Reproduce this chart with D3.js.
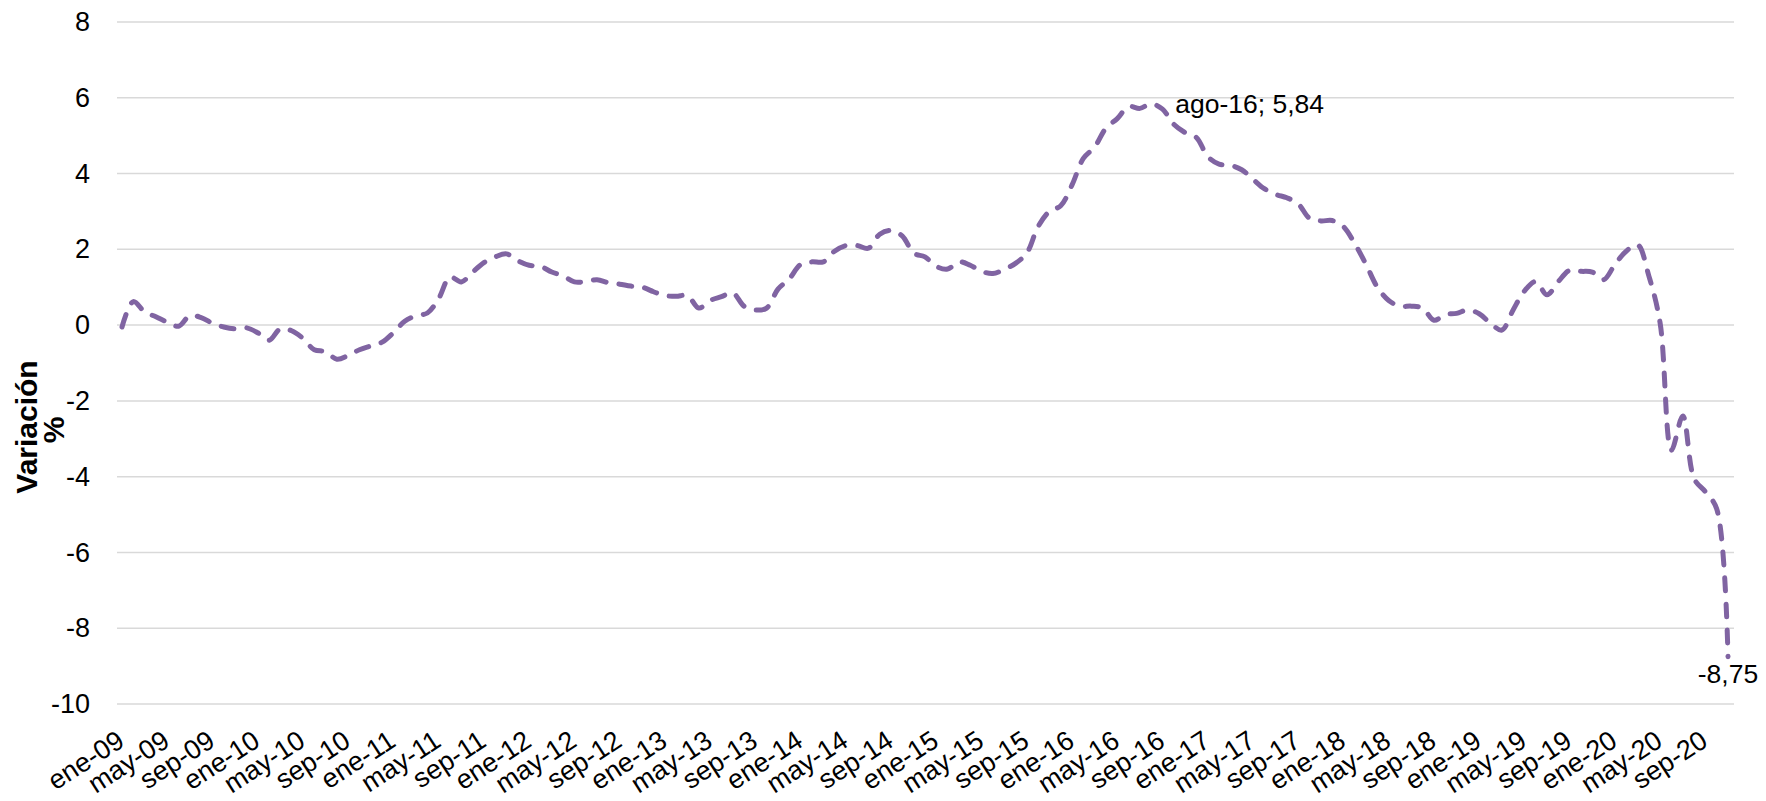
<!DOCTYPE html>
<html>
<head>
<meta charset="utf-8">
<script src="https://cdn.jsdelivr.net/npm/d3@7/dist/d3.min.js"></script>
<style>
  html, body { margin: 0; padding: 0; background: #fff; }
  svg { display: block; }
  text { font-family: "Liberation Sans", Arial, sans-serif; fill: #000; }
</style>
</head>
<body>
<svg id="chart" width="1766" height="801"></svg>
<script>
// ---- data ----
const monthNames = ["ene","feb","mar","abr","may","jun","jul","ago","sep","oct","nov","dic"];
const startYear = 2009;
const nMonths = 143; // ene-09 .. nov-20
const categories = Array.from({length: nMonths}, (_, i) =>
  monthNames[i % 12] + "-" + String((startYear + Math.floor(i / 12)) % 100).padStart(2, "0"));

const values = [
  -0.05, 0.62, 0.35, 0.22, 0.08, -0.03, 0.25, 0.20, 0.05, -0.05,
  -0.10, -0.07, -0.20, -0.40, -0.10, -0.15, -0.35, -0.65, -0.70, -0.90,
  -0.80, -0.65, -0.55, -0.45, -0.20, 0.10, 0.25, 0.32, 0.70, 1.27,
  1.14, 1.40, 1.65, 1.80, 1.88, 1.70, 1.58, 1.55, 1.40, 1.30,
  1.14, 1.15, 1.20, 1.12, 1.08, 1.03, 1.00, 0.88, 0.78, 0.76,
  0.78, 0.45, 0.65, 0.75, 0.85, 0.50, 0.40, 0.45, 0.95, 1.22,
  1.60, 1.67, 1.67, 1.95, 2.10, 2.10, 2.03, 2.40, 2.50, 2.35,
  1.90, 1.80, 1.55, 1.48, 1.67, 1.58, 1.42, 1.36, 1.47, 1.63,
  1.90, 2.60, 3.00, 3.15, 3.70, 4.40, 4.70, 5.20, 5.45, 5.77,
  5.72, 5.84, 5.70, 5.30, 5.08, 4.95, 4.45, 4.25, 4.22, 4.10,
  3.85, 3.60, 3.45, 3.36, 3.20, 2.82, 2.75, 2.76, 2.60, 2.15,
  1.60, 1.00, 0.65, 0.50, 0.50, 0.45, 0.13, 0.28, 0.31, 0.40,
  0.30, 0.05, -0.13, 0.40, 0.90, 1.15, 0.80, 1.15, 1.45, 1.42,
  1.40, 1.20, 1.60, 1.95, 2.12, 1.30, 0.05, -3.30, -2.40, -4.05,
  -4.40, -4.85, -8.75
];

const yTicks = [-10, -8, -6, -4, -2, 0, 2, 4, 6, 8];
const yTickLabels = ["-10", "-8", "-6", "-4", "-2", "0", "2", "4", "6", "8"];
const xTickLabels = categories.filter((_, i) => i % 4 === 0);
const annotated = ["ago-16", "nov-20"];

const data = categories.map((c, i) => ({cat: c, value: values[i]}));

// ---- layout ----
const svg = d3.select("#chart");
const plotLeft = 117, plotRight = 1734;
const x = d3.scalePoint().domain(categories).range([122, 1728]);
const y = d3.scaleLinear().domain([-10, 8]).range([704, 22]);

// gridlines
svg.append("g").selectAll("line").data(yTicks).join("line")
  .attr("x1", plotLeft).attr("x2", plotRight)
  .attr("y1", d => y(d)).attr("y2", d => y(d))
  .attr("stroke", "#d9d9d9").attr("stroke-width", 1.5);

// y axis labels
const yAxis = d3.axisLeft(y).tickValues(yTicks).tickSize(0).tickPadding(0)
  .tickFormat((d, i) => yTickLabels[i]);
const gy = svg.append("g").attr("transform", "translate(90,0)").call(yAxis);
gy.select(".domain").remove();
gy.selectAll("text").attr("font-size", "27px").attr("fill", "#000")
  .attr("font-family", "Liberation Sans, Arial, sans-serif");

// x axis labels
const xAxis = d3.axisBottom(x).tickValues(xTickLabels).tickSize(0).tickPadding(0);
const gx = svg.append("g").call(xAxis);
gx.select(".domain").remove();
gx.selectAll(".tick").attr("transform", d => `translate(${x(d) + 4},745)`);
gx.selectAll("text")
  .attr("font-size", "27px").attr("fill", "#000")
  .attr("font-family", "Liberation Sans, Arial, sans-serif")
  .attr("text-anchor", "end").attr("dy", null).attr("y", 0).attr("x", 0)
  .attr("transform", "rotate(-33)");

// line
const line = d3.line().x(d => x(d.cat)).y(d => y(d.value)).curve(d3.curveCatmullRom.alpha(0.5));
svg.append("path").datum(data)
  .attr("d", line)
  .attr("fill", "none")
  .attr("stroke", "#8064a2")
  .attr("stroke-width", 5)
  .attr("stroke-linecap", "round")
  .attr("stroke-dasharray", "13,13");

// data labels
const fmt = v => v.toFixed(2).replace(".", ",");
const peak = data.find(d => d.cat === annotated[0]);
svg.append("text")
  .attr("x", x(peak.cat) + 24).attr("y", y(peak.value))
  .attr("dominant-baseline", "central")
  .attr("font-size", "26.5px")
  .text(`${peak.cat}; ${fmt(peak.value)}`);
const last = data.find(d => d.cat === annotated[1]);
svg.append("text")
  .attr("x", x(last.cat)).attr("y", y(last.value) + 26)
  .attr("text-anchor", "middle")
  .attr("font-size", "26.5px")
  .text(fmt(last.value));

// y title
svg.append("text")
  .attr("transform", "translate(37,427) rotate(-90)")
  .attr("text-anchor", "middle").attr("font-weight", "bold").attr("font-size", "30px")
  .text("Variación");
svg.append("text")
  .attr("transform", "translate(64,430) rotate(-90)")
  .attr("text-anchor", "middle").attr("font-weight", "bold").attr("font-size", "30px")
  .text("%");
</script>
</body>
</html>
